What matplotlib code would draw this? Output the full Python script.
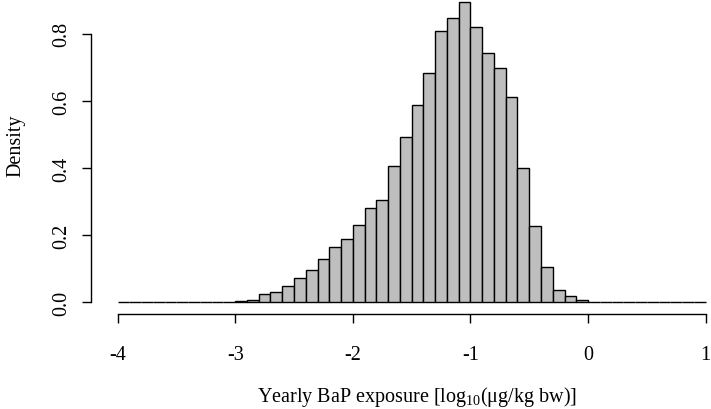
import numpy as np
import matplotlib
matplotlib.use("Agg")
import matplotlib.pyplot as plt

# histogram of log10 yearly BaP exposure, bins of width 0.1 from -4 to 1
bin_edges = np.round(np.arange(-4.0, 1.0001, 0.1), 1)
# densities for bins starting at -3.0 ... -0.1 (all other bins are empty)
nonzero_start = -3.0
nonzero_density = [0.003, 0.007, 0.024, 0.030, 0.049, 0.072, 0.096, 0.130, 0.164, 0.189,
                   0.229, 0.282, 0.304, 0.407, 0.494, 0.587, 0.682, 0.810, 0.847, 0.896,
                   0.820, 0.743, 0.699, 0.611, 0.400, 0.226, 0.105, 0.038, 0.018, 0.006]
y_ticks = [0.0, 0.2, 0.4, 0.6, 0.8]
x_ticks = [-4, -3, -2, -1, 0, 1]

density = np.zeros(len(bin_edges) - 1)
i0 = int(round((nonzero_start - bin_edges[0]) / 0.1))
density[i0:i0 + len(nonzero_density)] = nonzero_density

plt.rcParams['font.family'] = ['Liberation Serif', 'DejaVu Serif']
plt.rcParams['mathtext.fontset'] = 'custom'
plt.rcParams['mathtext.rm'] = 'Liberation Serif'
plt.rcParams['mathtext.it'] = 'Liberation Serif:italic'

W, H = 711, 410
fig = plt.figure(figsize=(W / 100, H / 100), dpi=100)
# axes box in pixels: left 91, right 708, top 0, bottom 315
ax = fig.add_axes([91 / W, (H - 315) / H, (708 - 91) / W, 315 / H])

ax.bar(bin_edges[:-1], density, width=0.1, align='edge',
       color='#bebebe', edgecolor='black', linewidth=1.0)

ax.set_xlim(-4.226, 1.02)
ax.set_ylim(-0.035, 0.904)

for s in ['top', 'right']:
    ax.spines[s].set_visible(False)
ax.spines['left'].set_bounds(0, 0.8)
ax.spines['bottom'].set_bounds(-4, 1)
ax.spines['left'].set_linewidth(1.0)
ax.spines['bottom'].set_linewidth(1.0)

ax.set_xticks(x_ticks)
ax.set_xticklabels([str(v) for v in x_ticks])
ax.set_yticks(y_ticks)
ax.set_yticklabels([f"{v:.1f}" for v in y_ticks], rotation=90, va='center')
ax.tick_params(axis='both', direction='out', length=6.5, width=1.0, labelsize=14.5)
ax.tick_params(axis='x', pad=15.5)
ax.tick_params(axis='y', pad=8)

ax.set_xlabel(r'Yearly BaP exposure [log$_{10}$(μg/kg bw)]', fontsize=14.5, labelpad=15)
ax.set_ylabel('Density', fontsize=14.5, labelpad=19)
ax.xaxis.label.set_x(0.528)
ax.yaxis.label.set_y(0.537)

fig.savefig('out.png', dpi=100)
